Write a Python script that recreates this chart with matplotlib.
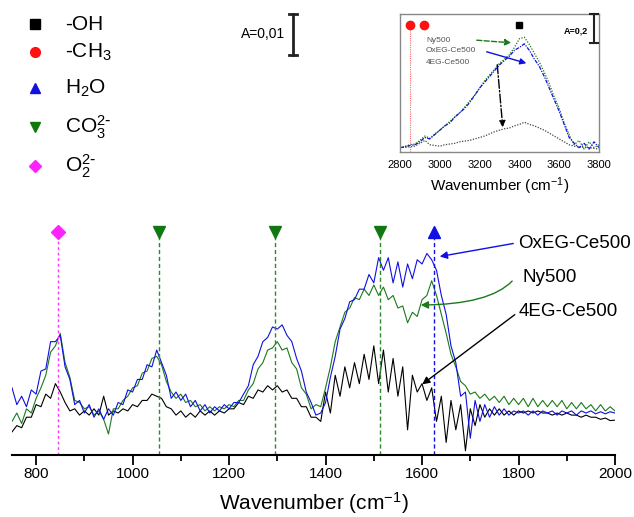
import numpy as np
import matplotlib
matplotlib.use('Agg')
import matplotlib.pyplot as plt
from matplotlib.ticker import MultipleLocator

plt.rcParams['font.family'] = ['Liberation Sans', 'DejaVu Sans']
plt.rcParams['mathtext.default'] = 'regular'

#---------- main spectra (absorbance, x1e-3), sampled every 10 cm-1 ----------
wn = np.arange(750, 2001, 10)

oxeg = [16, 12, 14, 11.5, 15.5, 14.5, 20, 20.5, 27, 27,
        28.5, 21, 18, 12, 13, 10, 12, 9, 11, 8.5,
        11, 9.5, 12.5, 12, 15.5, 15, 18, 18, 21.5, 21,
        25, 22, 19, 13.5, 15, 13, 14.5, 11.5, 13, 10.5,
        12, 10, 11.5, 10.5, 12, 11, 12.5, 12.5, 14.5, 16.5,
        21.5, 23.5, 27, 28, 30.5, 30, 31, 28.5, 27, 23,
        20, 15, 12.5, 9.5, 10, 12.5, 18.5, 23.5, 30, 32.5,
        36.5, 37, 39.5, 39.5, 43, 41, 47, 44, 47, 41,
        46, 40, 45.5, 42, 46.5, 45.5, 48, 46.5, 44, 38,
        33.5, 26, 22, 14, 15, 4, 13, 8, 12, 9,
        11.5, 9.5, 11, 9.5, 10.5, 10, 10.5, 9.5, 10.5, 9.5,
        10.5, 10, 10.5, 9.5, 10.5, 10, 10.5, 9.5, 10.5, 10,
        10.5, 9.8, 10.3, 9.8, 10.3, 10]

ny500 = [8, 10, 7.5, 11, 10, 13.5, 16, 19, 24.5, 26,
         29, 22, 18.5, 13, 12.5, 11, 11.5, 9.5, 10.5, 8.5,
         5, 11, 11, 13, 14, 16, 16.5, 19.5, 20, 23,
         23.5, 21.5, 17.5, 15, 13.5, 14.5, 12.5, 13, 11.5, 12,
         10.5, 11.5, 10.5, 11.5, 11, 12, 11.5, 13, 13, 15.5,
         17, 20.5, 22, 25, 25.5, 27, 25, 25.5, 22, 20.5,
         16, 14.5, 11, 12, 11.5, 16, 21, 27, 30.5, 34,
         35, 37.5, 37, 39.5, 38, 40.5, 38, 40, 37, 38,
         35, 35.5, 31.5, 34, 33, 37, 38, 41.5, 38, 33.5,
         29, 24, 21, 17.5, 16.5, 14.5, 15, 13.5, 14.5, 13,
         14, 12.5, 14, 12, 13.5, 12, 13.5, 11.5, 13.5, 11.5,
         13, 11.5, 13, 11.5, 13, 11, 12.5, 11, 12.5, 11,
         12, 10.5, 12, 10.5, 11.5, 10.5]

eg4 = [5.5, 7, 6.5, 9, 9, 12, 11.5, 14.5, 13.5, 17,
       15, 12.5, 10.5, 11, 9.5, 10.5, 9.5, 11, 9.5, 14,
       9.5, 10.5, 10, 11, 10.5, 12, 11.5, 13, 13, 14.5,
       14, 13.5, 11.5, 11, 9.5, 10.5, 9, 10, 9, 10.5,
       9.5, 10.5, 9.5, 10.5, 10, 11, 11, 12.5, 12, 14,
       13.5, 15.5, 15, 16.5, 15.5, 16.5, 15, 15.5, 13.5, 13.5,
       11.5, 11.5, 9, 9, 8, 15, 10, 19, 14, 21,
       16, 22, 17, 24, 18, 26, 17, 25, 15, 23,
       14, 21, 6, 19, 15, 17, 13, 16, 8, 14,
       3, 13, 6, 12, 1, 11, 7, 12, 9, 11,
       9.5, 11, 9.5, 10.5, 9.5, 10.5, 10, 10.5, 10, 10.5,
       10, 10, 9.5, 10, 9.5, 10, 9.5, 9.5, 9, 9.5,
       9, 9, 8.5, 8.8, 8.2, 8.3]

# band positions marked on top
o2_pos = [845]
co3_pos = [1055, 1295, 1512]
h2o_pos = [1625]

#---------- inset spectra (absorbance) ----------
wn_in = np.arange(2800, 3801, 25)
oxeg_in = [.03, .035, .045, .05, .07, .10, .09, .12, .15, .18,
           .20, .24, .27, .30, .34, .39, .44, .48, .52, .56,
           .60, .63, .66, .70, .72, .745, .70, .64, .59, .52,
           .44, .36, .28, .19, .10, .06, .03, .06, .02, .07, .03]
ny_in = [.03, .04, .05, .055, .08, .11, .095, .125, .15, .18,
         .21, .24, .27, .31, .35, .39, .44, .49, .53, .57,
         .61, .64, .67, .72, .78, .79, .74, .68, .62, .55,
         .47, .38, .30, .20, .12, .05, .08, .02, .07, .03, .05]
eg_in = [.03, .033, .035, .04, .06, .08, .05, .045, .04, .05,
         .055, .06, .07, .075, .08, .09, .10, .11, .125, .14,
         .15, .16, .165, .18, .19, .205, .19, .18, .165, .15,
         .13, .11, .09, .07, .05, .04, .035, .03, .03, .025, .02]
ch3_pos = [2850, 2920]
oh_pos = [3400]

blue = '#1010e0'
green = '#1a7a1a'

fig = plt.figure(figsize=(6.34, 5.17), dpi=100)

#---------- main axes ----------
ax = fig.add_axes([12/634, 62/517, 603/634, 233/517])
ax.plot(wn, eg4, color='black', lw=0.8)
ax.plot(wn, ny500, color=green, lw=0.8)
ax.plot(wn, oxeg, color=blue, lw=0.8)

top = 53.1
for p in o2_pos:
    ax.vlines(p, 0, top, colors='#ff33ff', linestyles=(0, (2, 2)), lw=1)
    ax.plot(p, top, marker='D', ms=7, color='#ff22ff', clip_on=False)
for p in co3_pos:
    ax.vlines(p, 0, top, colors='#2a8a2a', linestyles=(0, (3, 2)), lw=1)
    ax.plot(p, top, marker='v', ms=9, color='#117711', clip_on=False)
for p in h2o_pos:
    ax.vlines(p, 0, top, colors=blue, linestyles=(0, (3, 2)), lw=1)
    ax.plot(p, top, marker='^', ms=9, color=blue, clip_on=False)

ax.set_xlim(750, 2000)
ax.set_ylim(0, 55.5)
for s in ['left', 'right', 'top']:
    ax.spines[s].set_visible(False)
ax.spines['bottom'].set_linewidth(1.5)
ax.set_yticks([])
ax.xaxis.set_major_locator(MultipleLocator(200))
ax.xaxis.set_minor_locator(MultipleLocator(100))
ax.tick_params(axis='x', which='major', length=7, width=1.3, labelsize=11, pad=2)
ax.tick_params(axis='x', which='minor', length=4, width=1.3)
ax.set_xlabel('Wavenumber (cm$^{-1}$)', fontsize=15, labelpad=6)
ax.patch.set_alpha(0)

#---------- inset ----------
axi = fig.add_axes([400/634, (517-152)/517, 199/634, 138/517])
axi.plot(wn_in, eg_in, color='#444444', lw=0.9, ls=(0, (1, 1.2)))
axi.plot(wn_in, ny_in, color=green, lw=0.9, ls=(0, (1, 1.2)))
axi.plot(wn_in, oxeg_in, color=blue, lw=0.9, ls=(0, (3, 1, 1, 1)))
axi.vlines(ch3_pos[0], 0, 0.86, colors='#ff6666', linestyles=(0, (1, 1)), lw=0.8)
axi.plot(ch3_pos, [0.876]*len(ch3_pos), 'o', color='#ff1111', ms=6)
axi.plot(oh_pos, [0.876], 's', color='black', ms=5)
axi.set_xlim(2800, 3800)
axi.set_ylim(0, 0.95)
axi.set_yticks([])
axi.set_xticks(np.arange(2800, 3801, 200))
axi.tick_params(axis='x', length=0, labelsize=8, pad=6)
for s in axi.spines.values():
    s.set_color('#888888')
    s.set_linewidth(1)
axi.set_xlabel('Wavenumber (cm$^{-1}$)', fontsize=11, labelpad=4)

#---------- overlay for legend, labels, scale bars ----------
ov = fig.add_axes([0, 0, 1, 1])
ov.set_xlim(0, 634)
ov.set_ylim(517, 0)
ov.axis('off')
ov.patch.set_alpha(0)

leg_labels = ['-OH', '-CH$_3$', 'H$_2$O', r'CO$_3^{2\text{-}}$', r'O$_2^{2\text{-}}$']
leg_marks = ['s', 'o', '^', 'v', 'D']
leg_cols = ['black', '#ff1111', blue, '#117711', '#ff22ff']
leg_y = [24, 52, 88, 127, 166]
for lab, m, c, y in zip(leg_labels, leg_marks, leg_cols, leg_y):
    ov.plot(35, y, marker=m, color=c, ms=7 if m != 'D' else 6)
    ov.text(65, y, lab, fontsize=15, va='center', ha='left')

ov.text(285, 34, 'A=0,01', fontsize=10, ha='right', va='center')
ov.plot([293, 293], [14, 55], color='#222222', lw=2)
ov.plot([289, 297], [14, 14], color='#222222', lw=2)
ov.plot([289, 297], [55, 55], color='#222222', lw=2)

ov.text(588, 31, 'A=0,2', fontsize=6.5, fontweight='bold', ha='right', va='center')
ov.plot([594, 594], [14, 43], color='#222222', lw=1.5)
ov.plot([590, 598], [14, 14], color='#222222', lw=1.5)
ov.plot([590, 598], [43, 43], color='#222222', lw=1.5)

# inset labels and arrows
ov.text(426, 40, 'Ny500', fontsize=6, color='#555555', va='center')
ov.text(426, 51, 'OxEG-Ce500', fontsize=6, color='#555555', va='center')
ov.text(426, 62, '4EG-Ce500', fontsize=6, color='#555555', va='center')
ov.annotate('', xy=(514, 43), xytext=(474, 40),
            arrowprops=dict(arrowstyle='-|>', color=green, lw=1, ls='--', mutation_scale=9))
ov.annotate('', xy=(529, 64), xytext=(484, 51),
            arrowprops=dict(arrowstyle='-|>', color=blue, lw=1, mutation_scale=9))
ov.annotate('', xy=(503, 130), xytext=(497, 62),
            arrowprops=dict(arrowstyle='-|>', color='black', lw=1, ls='-.', mutation_scale=9))

# main labels and arrows
ov.text(518, 243, 'OxEG-Ce500', fontsize=13.5, va='center', ha='left')
ov.text(522, 278, 'Ny500', fontsize=13.5, va='center', ha='left')
ov.text(519, 312, '4EG-Ce500', fontsize=13.5, va='center', ha='left')
ov.annotate('', xy=(437, 257), xytext=(516, 243),
            arrowprops=dict(arrowstyle='-|>', color=blue, lw=1, mutation_scale=11))
ov.annotate('', xy=(418, 305), xytext=(514, 279),
            arrowprops=dict(arrowstyle='-|>', color=green, lw=1, mutation_scale=11,
                            connectionstyle='angle3,angleA=50,angleB=0'))
ov.annotate('', xy=(420, 386), xytext=(517, 313),
            arrowprops=dict(arrowstyle='-|>', color='black', lw=1, mutation_scale=11))

plt.savefig('out.png', dpi=100)
